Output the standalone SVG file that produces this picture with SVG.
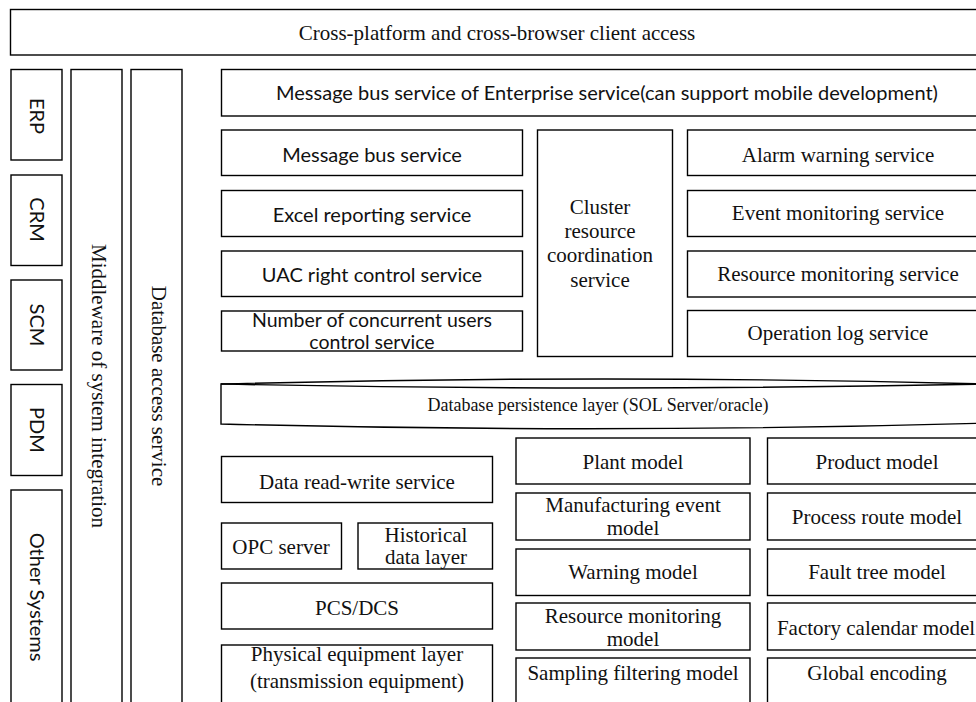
<svg xmlns="http://www.w3.org/2000/svg" width="976" height="702" viewBox="0 0 976 702">
<style>
.b{fill:#fff;stroke:#000;stroke-width:1.4}
.s{font-family:"Liberation Serif","Times New Roman",serif;font-size:21px;fill:#111;text-anchor:middle}
.c{font-family:"Lato","Carlito","Liberation Sans",sans-serif;font-size:20px;fill:#111;text-anchor:middle}
</style>
<rect width="976" height="702" fill="#fff"/>
<g id="client-access"><rect class="b" x="10.5" y="9.5" width="985" height="45.5"/><text class="s" x="497" y="39.5">Cross-platform and cross-browser client access</text></g>
<g id="erp"><rect class="b" x="11" y="69.5" width="51" height="90.5"/><text class="c" transform="translate(29.5,116) rotate(90)">ERP</text></g>
<g id="crm"><rect class="b" x="11" y="175" width="51" height="90.5"/><text class="c" transform="translate(29.5,219.5) rotate(90)">CRM</text></g>
<g id="scm"><rect class="b" x="11" y="280" width="51" height="90"/><text class="c" transform="translate(29.5,325) rotate(90)">SCM</text></g>
<g id="pdm"><rect class="b" x="11" y="384.5" width="51" height="91"/><text class="c" transform="translate(29.5,430) rotate(90)">PDM</text></g>
<g id="other-systems"><rect class="b" x="11" y="490" width="51" height="230"/><text class="c" transform="translate(29.5,597) rotate(90)">Other Systems</text></g>
<g id="middleware"><rect class="b" x="71" y="69.5" width="51" height="650"/><text class="s" transform="translate(91.5,386) rotate(90)">Middleware of system integration</text></g>
<g id="db-access"><rect class="b" x="131" y="69.5" width="51" height="650"/><text class="s" transform="translate(151.5,386) rotate(90)">Database access service</text></g>
<g id="enterprise-bus"><rect class="b" x="221.5" y="69.5" width="775" height="46.5"/><text class="c" x="607" y="100">Message bus service of Enterprise service(can support mobile development)</text></g>
<g id="message-bus"><rect class="b" x="221.5" y="130" width="301" height="45.5"/><text class="c" x="372" y="162">Message bus service</text></g>
<g id="excel"><rect class="b" x="221.5" y="190.5" width="301" height="46"/><text class="c" x="372" y="222">Excel reporting service</text></g>
<g id="uac"><rect class="b" x="221.5" y="251" width="301" height="45.5"/><text class="c" x="372" y="282">UAC right control service</text></g>
<g id="concurrent-users"><rect class="b" x="221.5" y="311" width="301" height="40"/><text class="c" style="font-size:19.5px" x="372" y="327">Number of concurrent users</text><text class="c" style="font-size:19.5px" x="372" y="349">control service</text></g>
<g id="cluster"><rect class="b" x="537.5" y="130" width="135" height="226.5"/><text class="s" x="600" y="213.5">Cluster</text><text class="s" x="600" y="238">resource</text><text class="s" x="600" y="262">coordination</text><text class="s" x="600" y="286.5">service</text></g>
<g id="alarm"><rect class="b" x="687.5" y="130" width="310" height="45.5"/><text class="s" x="838" y="162">Alarm warning service</text></g>
<g id="event-monitoring"><rect class="b" x="687.5" y="190.5" width="310" height="46"/><text class="s" x="838" y="219.5">Event monitoring service</text></g>
<g id="resource-monitoring"><rect class="b" x="687.5" y="251" width="310" height="46"/><text class="s" x="838" y="281">Resource monitoring service</text></g>
<g id="operation-log"><rect class="b" x="687.5" y="310.5" width="310" height="46"/><text class="s" x="838" y="340">Operation log service</text></g>
<g id="persistence"><path class="b" d="M221,384 Q604,374 988,384 L988,423 Q604,434 221,424 Z"/><path fill="none" stroke="#000" stroke-width="1.4" d="M221,384 Q604,392 988,384"/><text class="s" style="font-size:18px" x="598" y="411">Database persistence layer (SOL Server/oracle)</text></g>
<g id="data-rw"><rect class="b" x="221.5" y="456.5" width="271" height="46"/><text class="s" x="357" y="488.5">Data read-write service</text></g>
<g id="opc"><rect class="b" x="221.5" y="523" width="120" height="46"/><text class="s" x="281" y="553.5">OPC server</text></g>
<g id="historical"><rect class="b" x="358" y="523" width="134.5" height="46"/><text class="s" x="426" y="541.5">Historical</text><text class="s" x="426" y="563.5">data layer</text></g>
<g id="pcs-dcs"><rect class="b" x="221.5" y="583" width="271" height="46"/><text class="s" x="357" y="615">PCS/DCS</text></g>
<g id="physical"><rect class="b" x="221.5" y="645" width="271" height="70"/><text class="s" x="357" y="661">Physical equipment layer</text><text class="s" x="357" y="688">(transmission equipment)</text></g>
<g id="plant"><rect class="b" x="516" y="438" width="234" height="46"/><text class="s" x="633" y="468.5">Plant model</text></g>
<g id="manufacturing"><rect class="b" x="516" y="493" width="234" height="47"/><text class="s" x="633" y="511.5">Manufacturing event</text><text class="s" x="633" y="535">model</text></g>
<g id="warning"><rect class="b" x="516" y="549" width="234" height="46.5"/><text class="s" x="633" y="579">Warning model</text></g>
<g id="resmon-model"><rect class="b" x="516" y="603" width="234" height="47"/><text class="s" x="633" y="622.5">Resource monitoring</text><text class="s" x="633" y="646">model</text></g>
<g id="sampling"><rect class="b" x="516" y="658" width="234" height="60"/><text class="s" x="633" y="680">Sampling filtering model</text></g>
<g id="product"><rect class="b" x="767.5" y="438" width="230" height="46"/><text class="s" x="877" y="468.5">Product model</text></g>
<g id="process-route"><rect class="b" x="767.5" y="493" width="230" height="47"/><text class="s" x="877" y="524">Process route model</text></g>
<g id="fault-tree"><rect class="b" x="767.5" y="549" width="230" height="46.5"/><text class="s" x="877" y="579">Fault tree model</text></g>
<g id="factory-calendar"><rect class="b" x="767.5" y="603" width="230" height="47"/><text class="s" x="876" y="635">Factory calendar model</text></g>
<g id="global-encoding"><rect class="b" x="767.5" y="658" width="230" height="60"/><text class="s" x="877" y="680">Global encoding</text></g>
<g id="connectors"/>
</svg>
